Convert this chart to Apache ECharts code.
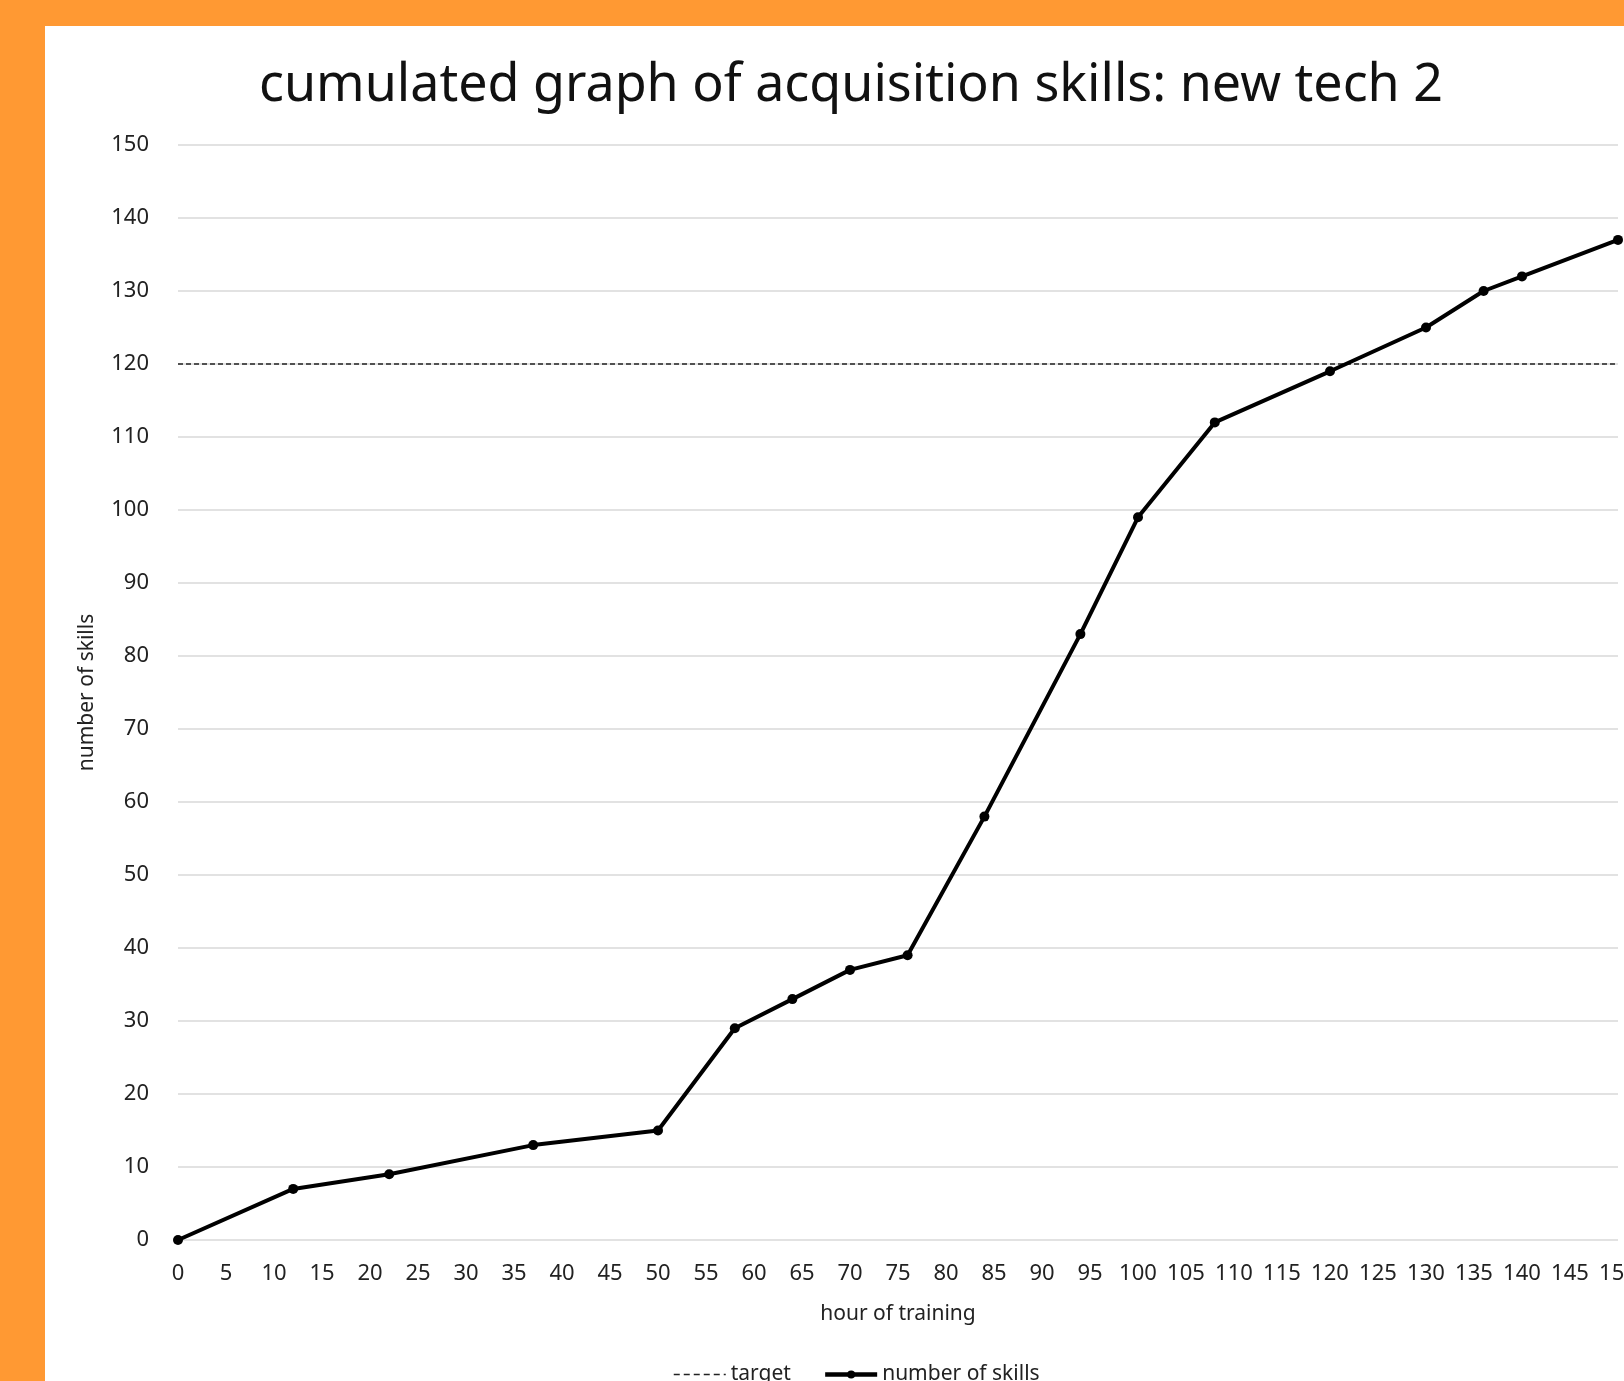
<!DOCTYPE html>
<html>
<head>
<meta charset="utf-8">
<script src="https://cdn.jsdelivr.net/npm/echarts@6/dist/echarts.min.js"></script>
<style>
  html, body { margin: 0; padding: 0; }
  body { width: 1624px; height: 1381px; background: #ff9933; position: relative; overflow: hidden; }
  .sheet { position: absolute; left: 45px; top: 26px; right: 0; bottom: 0; background: #fff; }
  #chart { position: absolute; left: 0; top: 0; width: 1624px; height: 1381px; }
</style>
</head>
<body>
<div class="sheet"></div>
<div id="chart"></div>
<script>
// hours of training vs cumulated number of skills
const hours = [0, 12, 22, 37, 50, 58, 64, 70, 76, 84, 94, 100, 108, 120, 130, 136, 140, 150]
const skills = [0, 7, 9, 13, 15, 29, 33, 37, 39, 58, 83, 99, 112, 119, 125, 130, 132, 137]
const targetHours = [0, 150]
const targetValue = 120

const font = "'Noto Sans', 'Open Sans', sans-serif"
const chart = echarts.init(document.getElementById('chart'), null, { renderer: 'canvas' })

chart.setOption({
  animation: false,
  backgroundColor: 'transparent',
  textStyle: { fontFamily: font },
  title: {
    text: 'cumulated graph of acquisition skills: new tech 2',
    left: 846,
    top: 55,
    textAlign: 'center',
    textStyle: { fontFamily: font, fontSize: 52, fontWeight: 'normal', color: '#111' },
  },
  legend: {
    bottom: -9,
    left: 668,
    itemWidth: 52,
    itemHeight: 10,
    itemGap: 32,
    textStyle: { fontFamily: font, fontSize: 21, color: '#222' },
    data: [
      { name: 'target', itemStyle: { opacity: 0 }, lineStyle: { type: [6, 4], width: 1.5 } },
      { name: 'number of skills', lineStyle: { width: 4.5 } },
    ],
  },
  grid: { left: 178, right: 6, top: 145, bottom: 141, outerBoundsMode: 'none', containLabel: false },
  xAxis: {
    type: 'value',
    min: 0, max: 150, interval: 5,
    name: 'hour of training',
    nameLocation: 'middle',
    nameGap: 64,
    nameTextStyle: { fontFamily: font, fontSize: 21, color: '#222' },
    axisLine: { show: false },
    axisTick: { show: false },
    splitLine: { show: false },
    axisLabel: { fontFamily: font, fontSize: 22, color: '#222', margin: 23 },
  },
  yAxis: {
    type: 'value',
    min: 0, max: 150, interval: 10,
    name: 'number of skills',
    nameLocation: 'middle',
    nameGap: 80,
    nameTextStyle: { fontFamily: font, fontSize: 21, color: '#222' },
    axisLine: { show: false },
    axisTick: { show: false },
    splitLine: { lineStyle: { color: '#d9d9d9', width: 1.5 } },
    axisLabel: { fontFamily: font, fontSize: 22, color: '#222', margin: 29 },
  },
  series: [
    {
      name: 'target',
      type: 'line',
      data: targetHours.map(h => [h, targetValue]),
      symbol: 'none',
      lineStyle: { color: '#222', width: 1.3, type: [5, 3] },
      itemStyle: { color: '#222' },
    },
    {
      name: 'number of skills',
      type: 'line',
      data: hours.map((h, i) => [h, skills[i]]),
      symbol: 'circle',
      symbolSize: 10,
      lineStyle: { color: '#000', width: 4 },
      itemStyle: { color: '#000' },
    },
  ],
})
</script>
</body>
</html>
